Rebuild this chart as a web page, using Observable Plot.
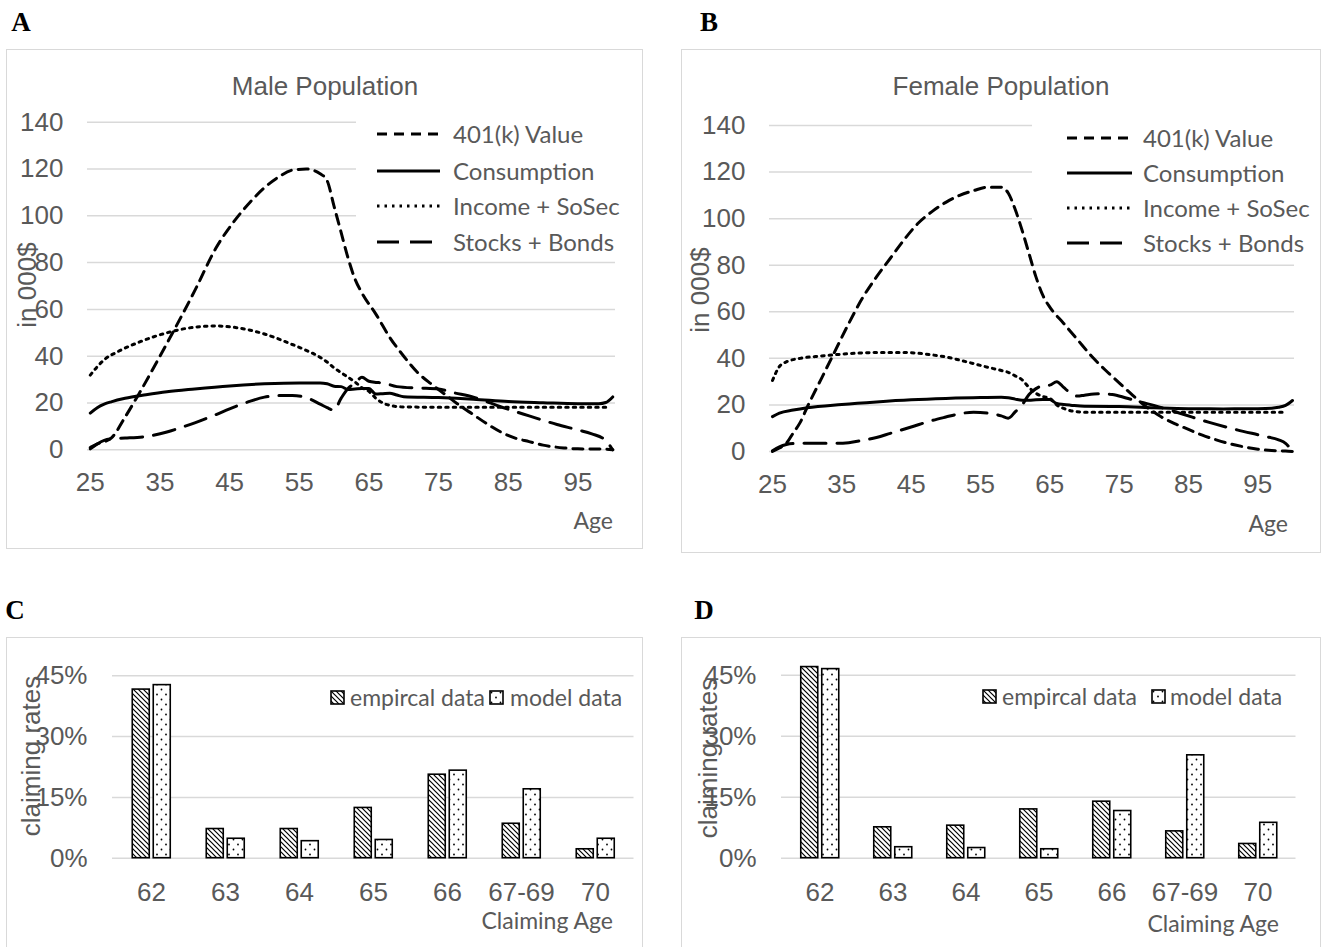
<!DOCTYPE html>
<html><head><meta charset="utf-8">
<script src="https://cdn.jsdelivr.net/npm/d3@7"></script>
<script src="https://cdn.jsdelivr.net/npm/@observablehq/plot@0.6"></script>
<style>
body{margin:0;background:#fff;}
#root{position:relative;width:1325px;height:947px;overflow:hidden;font-family:"Liberation Sans",Arial,sans-serif;color:#595959;}
.frame{position:absolute;border:1.5px solid #d9d9d9;box-sizing:border-box;}
.abs{position:absolute;white-space:nowrap;line-height:1;}
.plab{position:absolute;font-family:"Liberation Serif","Times New Roman",serif;font-weight:bold;font-size:27px;color:#000;line-height:1;transform:translate(-50%,-50%);}
.title{font-size:26px;transform:translate(-50%,-50%);}
.ytitle{font-size:26px;transform:translate(-50%,-50%) rotate(-90deg);}
.cal{font-family:Lato,"Open Sans",sans-serif;font-size:23px;color:#595959;}
.cal.big{font-size:24px;}
.plot{position:absolute;}
.legbox{position:absolute;background:#fff;}
</style></head><body>
<svg width="0" height="0" style="position:absolute">
<defs>
<pattern id="hatch" patternUnits="userSpaceOnUse" width="5" height="5">
<rect width="5" height="5" fill="white"/>
<path d="M-1,-1 L6,6 M-1,4 L1,6 M4,-1 L6,1" stroke="black" stroke-width="1.2"/>
</pattern>
<pattern id="dots" patternUnits="userSpaceOnUse" width="9" height="10">
<rect width="9" height="10" fill="white"/>
<circle cx="2.5" cy="2.5" r="0.9" fill="black"/>
<circle cx="7" cy="7.5" r="0.9" fill="black"/>
</pattern>
</defs></svg>
<div id="root"></div>
<script>
// ---------- DATA ----------
const ageTicks = [25, 35, 45, 55, 65, 75, 85, 95];
const valueTicks = [0, 20, 40, 60, 80, 100, 120, 140];
const lineSeriesNames = ["401(k) Value", "Consumption", "Income + SoSec", "Stocks + Bonds"];

// Male population (age, thousand $)
const male401k = [[25,1],[26,2.5],[28,5],[30,14],[32,24],[35,40],[37,51],[40,68],[43,86],[46,99],[48,106],[50,112],[52,116.5],[54,119.5],[56,120],[58,118],[59,115],[60,104],[61,93],[62,82],[63,73],[64,67],[66,58],[68,48],[70,40],[72,33],[74,28],[76,23.5],[78,19],[80,15],[82,11],[84,7.5],[86,5],[88,3.5],[90,2],[93,0.8],[95,0.4],[99,0.3],[100,0]];
const maleConsumption = [[25,15.7],[26,18],[27,19.5],[28,20.5],[30,22],[33,23.5],[36,24.8],[40,26],[45,27.3],[50,28.2],[55,28.6],[58,28.6],[59,28.2],[60,27.2],[61,27],[62,25.8],[63,26],[64,26.2],[65,26.2],[66,23.8],[67,24],[68,24.2],[69,23.4],[70,22.7],[75,22.3],[80,21.6],[85,20.6],[90,20.1],[95,19.7],[98,19.7],[99,20.2],[100,22.6]];
const maleIncome = [[25,31.9],[26,35.5],[27,38.5],[29,42],[32,46],[36,50],[39,52],[43,52.9],[46,52.2],[50,49.5],[54,45],[56,42.5],[58,39.5],[59,37.5],[60,35],[61,33],[62,31],[63,29],[64,26.5],[65,25],[66,22],[67,20],[68,19],[70,18.3],[75,18.2],[80,18.2],[85,18.2],[90,18.2],[95,18.2],[99,18.2]];
const maleStocks = [[25,0.4],[26,2.5],[27,4],[28,4.7],[30,5],[33,5.7],[36,7.6],[38,9.5],[40,11.5],[43,15],[45,17.5],[48,20.8],[50,22.5],[52,23.2],[54,23.2],[56,22.3],[58,19.5],[59,18],[60,16.9],[61,22],[62,26.2],[63,28.5],[64,31],[65,29.3],[66,28.8],[67,28.6],[69,27],[72,26.4],[75,26],[77,24.5],[80,22.5],[84,18.3],[88,14.5],[92,10.8],[95,8.5],[97,6.8],[99,4],[100,0]];

// Female population (age, thousand $)
const female401k = [[25,0],[26,1.5],[27,3.5],[28,8],[29,12.5],[30,19],[32,31],[34,43],[36,55],[38,66],[40,75],[42,83],[44,91],[46,98],[48,103],[50,107],[52,110],[54,112],[56,113.5],[58,113.5],[59,111],[60,104],[61,95],[62,85],[63,75],[64,67],[65,62],[67,55],[69,48],[71,41],[73,35],[75,29.5],[77,24],[79,19],[81,15],[83,12],[85,9.5],[87,7],[89,5],[91,3.3],[93,2],[95,1],[97,0.4],[99,0.2],[100,0]];
const femaleConsumption = [[25,15],[26,16.5],[28,17.8],[30,18.8],[35,20.2],[40,21.3],[45,22.2],[50,22.8],[55,23.2],[58,23.3],[59,23.1],[60,22.5],[61,22],[62,22],[63,22.2],[64,22.3],[65,22.3],[66,20.6],[67,20.2],[68,19.9],[70,19.4],[75,19.3],[80,18.8],[85,18.4],[90,18.3],[95,18.4],[97,18.6],[98,19],[99,19.8],[100,21.9]];
const femaleIncome = [[25,30.5],[26,36.5],[27,38.5],[29,40],[32,41],[36,42],[40,42.5],[44,42.5],[48,41.5],[50,40.6],[53,38.5],[56,36.2],[58,34.8],[59,34],[60,32.5],[61,30.8],[62,27.5],[63,25],[64,23.6],[65,22.8],[66,20],[67,18.5],[68,17.5],[70,16.9],[75,16.9],[80,16.9],[85,16.9],[90,16.9],[95,16.9],[99,16.9]];
const femaleStocks = [[25,0.3],[26,2],[27,3],[28,3.4],[30,3.5],[34,3.5],[36,3.8],[38,4.8],[40,6],[42,7.8],[45,10.5],[48,13.3],[50,14.8],[52,16.2],[54,16.9],[56,16.5],[58,15.3],[59,14.3],[60,17],[61,20],[62,24.5],[63,27],[64,28.3],[65,28.5],[66,30],[67,27.5],[68,25],[69,23.8],[70,24.2],[72,24.8],[74,24.5],[76,23],[78,21.3],[80,19.8],[84,16.2],[88,12.5],[92,9.3],[96,6.5],[98,5],[99,3.5],[100,0]];

// Claiming rates
const claimAges = ["62", "63", "64", "65", "66", "67-69", "70"];
const rateTicks = [0, 0.15, 0.30, 0.45];
const barSeriesNames = ["empircal data", "model data"];
const maleEmpirical = [0.416, 0.072, 0.072, 0.124, 0.206, 0.085, 0.022];
const maleModel = [0.427, 0.048, 0.042, 0.045, 0.216, 0.170, 0.048];
const femaleEmpirical = [0.470, 0.076, 0.080, 0.120, 0.139, 0.066, 0.035];
const femaleModel = [0.465, 0.027, 0.025, 0.022, 0.116, 0.253, 0.087];

// ---------- STYLES ----------
const lineStyles = [
  {dash: "10,7"},       // 401(k)
  {dash: null},         // consumption
  {dash: "2.5,5"},      // income
  {dash: "22,11"}       // stocks
];
const root = document.getElementById("root");
const baseStyle = {fontFamily: "'Liberation Sans', Arial, sans-serif", fontSize: "26px", color: "#595959", background: "transparent", overflow: "visible"};

function el(cls, html, css) {
  const d = document.createElement("div");
  d.className = cls;
  d.innerHTML = html;
  Object.assign(d.style, css);
  root.appendChild(d);
  return d;
}

function linePanel(opt) {
  el("frame", "", {left: opt.fx + "px", top: opt.fy + "px", width: opt.fw + "px", height: opt.fh + "px"});
  const chart = Plot.plot({
    width: opt.fw, height: opt.fh,
    marginLeft: opt.ml, marginRight: opt.mr, marginTop: opt.mt, marginBottom: opt.mb,
    style: baseStyle,
    x: {domain: opt.xDomain, ticks: ageTicks, tickSize: 0, tickPadding: 23, label: null, tickFormat: d => String(d)},
    y: {domain: [0, 140], ticks: valueTicks, tickSize: 0, tickPadding: 24, label: null, tickFormat: d => String(d)},
    marks: [
      Plot.ruleY(valueTicks, {stroke: "#d9d9d9", strokeWidth: 1.5}),
      ...opt.series.map((s, i) => Plot.line(s, {
        x: d => d[0], y: d => d[1], stroke: "black", strokeWidth: 3,
        strokeDasharray: lineStyles[i].dash || undefined, curve: "monotone-x"
      }))
    ]
  });
  chart.classList.add("plot");
  Object.assign(chart.style, {left: opt.fx + "px", top: opt.fy + "px", position: "absolute"});
  root.appendChild(chart);
  // legend (white box covering gridlines)
  el("legbox", "", {left: opt.lb[0] + "px", top: opt.lb[1] + "px", width: opt.lb[2] + "px", height: opt.lb[3] + "px"});
  lineSeriesNames.forEach((name, i) => {
    const y = opt.legRows[i];
    const w = opt.legSample[1] - opt.legSample[0];
    const svg = `<svg width="${w}" height="10" style="display:block"><line x1="0" x2="${w}" y1="5" y2="5" stroke="black" stroke-width="3" ${lineStyles[i].dash ? `stroke-dasharray="${lineStyles[i].dash}"` : ""}/></svg>`;
    el("abs", svg, {left: opt.legSample[0] + "px", top: (y - 5) + "px"});
    el("abs cal big", name, {left: opt.legText + "px", top: y + "px", transform: "translateY(-50%)"});
  });
  el("abs title", opt.title, {left: opt.titlePos[0] + "px", top: opt.titlePos[1] + "px"});
  el("abs ytitle", "in 000$", {left: opt.yTitlePos[0] + "px", top: opt.yTitlePos[1] + "px"});
  el("abs cal", "Age", {left: (opt.agePos[0]) + "px", top: opt.agePos[1] + "px", transform: "translate(-100%,-50%)"});
}

function barPanel(opt) {
  el("frame", "", {left: opt.fx + "px", top: opt.fy + "px", width: opt.fw + "px", height: opt.fh + "px"});
  const bw = (opt.fw - opt.ml - opt.mr) / claimAges.length;
  const chart = Plot.plot({
    width: opt.fw, height: opt.sh,
    marginLeft: opt.ml, marginRight: opt.mr, marginTop: opt.mt, marginBottom: opt.mb,
    style: baseStyle,
    x: {domain: claimAges, padding: 0, tickSize: 0, tickPadding: 24, label: null},
    y: {domain: [0, 0.45], ticks: rateTicks, tickFormat: d3.format(".0%"), tickSize: 0, tickPadding: 25, label: null},
    marks: [
      Plot.ruleY(rateTicks, {stroke: "#d9d9d9", strokeWidth: 1.5}),
      Plot.barY(claimAges, {x: d => d, y: (d, i) => opt.emp[i], insetLeft: bw / 2 - 19, insetRight: bw / 2 + 1.5, fill: "url(#hatch)", stroke: "black", strokeWidth: 1.6}),
      Plot.barY(claimAges, {x: d => d, y: (d, i) => opt.mod[i], insetLeft: bw / 2 + 2, insetRight: bw / 2 - 19.5, fill: "url(#dots)", stroke: "black", strokeWidth: 1.6})
    ]
  });
  Object.assign(chart.style, {left: opt.fx + "px", top: opt.fy + "px", position: "absolute"});
  root.appendChild(chart);
  // legend
  const fills = ["url(#hatch)", "url(#dots)"];
  barSeriesNames.forEach((name, i) => {
    const sx = opt.legSw[i];
    el("abs", `<svg width="15" height="15" style="display:block"><rect x="1" y="1" width="13" height="13" fill="${fills[i]}" stroke="black" stroke-width="1.6"/></svg>`, {left: sx + "px", top: (opt.legY - 7.5) + "px"});
    el("abs cal", name, {left: opt.legTx[i] + "px", top: opt.legY + "px", transform: "translateY(-50%)"});
  });
  el("abs ytitle", "claiming rates", {left: opt.yTitlePos[0] + "px", top: opt.yTitlePos[1] + "px"});
  el("abs cal", "Claiming Age", {left: opt.agePos[0] + "px", top: opt.agePos[1] + "px", transform: "translate(-100%,-50%)"});
}

// Panel labels
el("plab", "A", {left: "21px", top: "22px"});
el("plab", "B", {left: "709px", top: "22px"});
el("plab", "C", {left: "15px", top: "610px"});
el("plab", "D", {left: "704px", top: "610px"});

linePanel({
  fx: 6, fy: 49, fw: 637, fh: 500, ml: 81, mr: 28, mt: 72.7, mb: 99.7,
  xDomain: [24.6, 100.4],
  series: [male401k, maleConsumption, maleIncome, maleStocks],
  lb: [356, 114, 259, 142], legRows: [134, 171, 206, 242], legSample: [377, 440], legText: 453,
  title: "Male Population", titlePos: [325, 86], yTitlePos: [27, 285], agePos: [613, 520]
});
linePanel({
  fx: 681, fy: 49, fw: 640, fh: 504, ml: 88, mr: 27, mt: 76, mb: 102,
  xDomain: [24.57, 100.29],
  series: [female401k, femaleConsumption, femaleIncome, femaleStocks],
  lb: [1032, 117, 262, 142], legRows: [138, 173, 208, 243], legSample: [1067, 1132], legText: 1143,
  title: "Female Population", titlePos: [1001, 86], yTitlePos: [700, 290], agePos: [1288, 523]
});
barPanel({
  fx: 6, fy: 637, fw: 637, fh: 330, sh: 310, ml: 106, mr: 9.5, mt: 38.3, mb: 89.3,
  emp: maleEmpirical, mod: maleModel,
  legSw: [330, 489], legTx: [350, 510], legY: 697,
  yTitlePos: [31, 756], agePos: [613, 920]
});
barPanel({
  fx: 681, fy: 637, fw: 640, fh: 330, sh: 310, ml: 100, mr: 25.5, mt: 37.7, mb: 89.3,
  emp: femaleEmpirical, mod: femaleModel,
  legSw: [982, 1151], legTx: [1002, 1170], legY: 696,
  yTitlePos: [708, 758], agePos: [1279, 923]
});
</script>
</body></html>
